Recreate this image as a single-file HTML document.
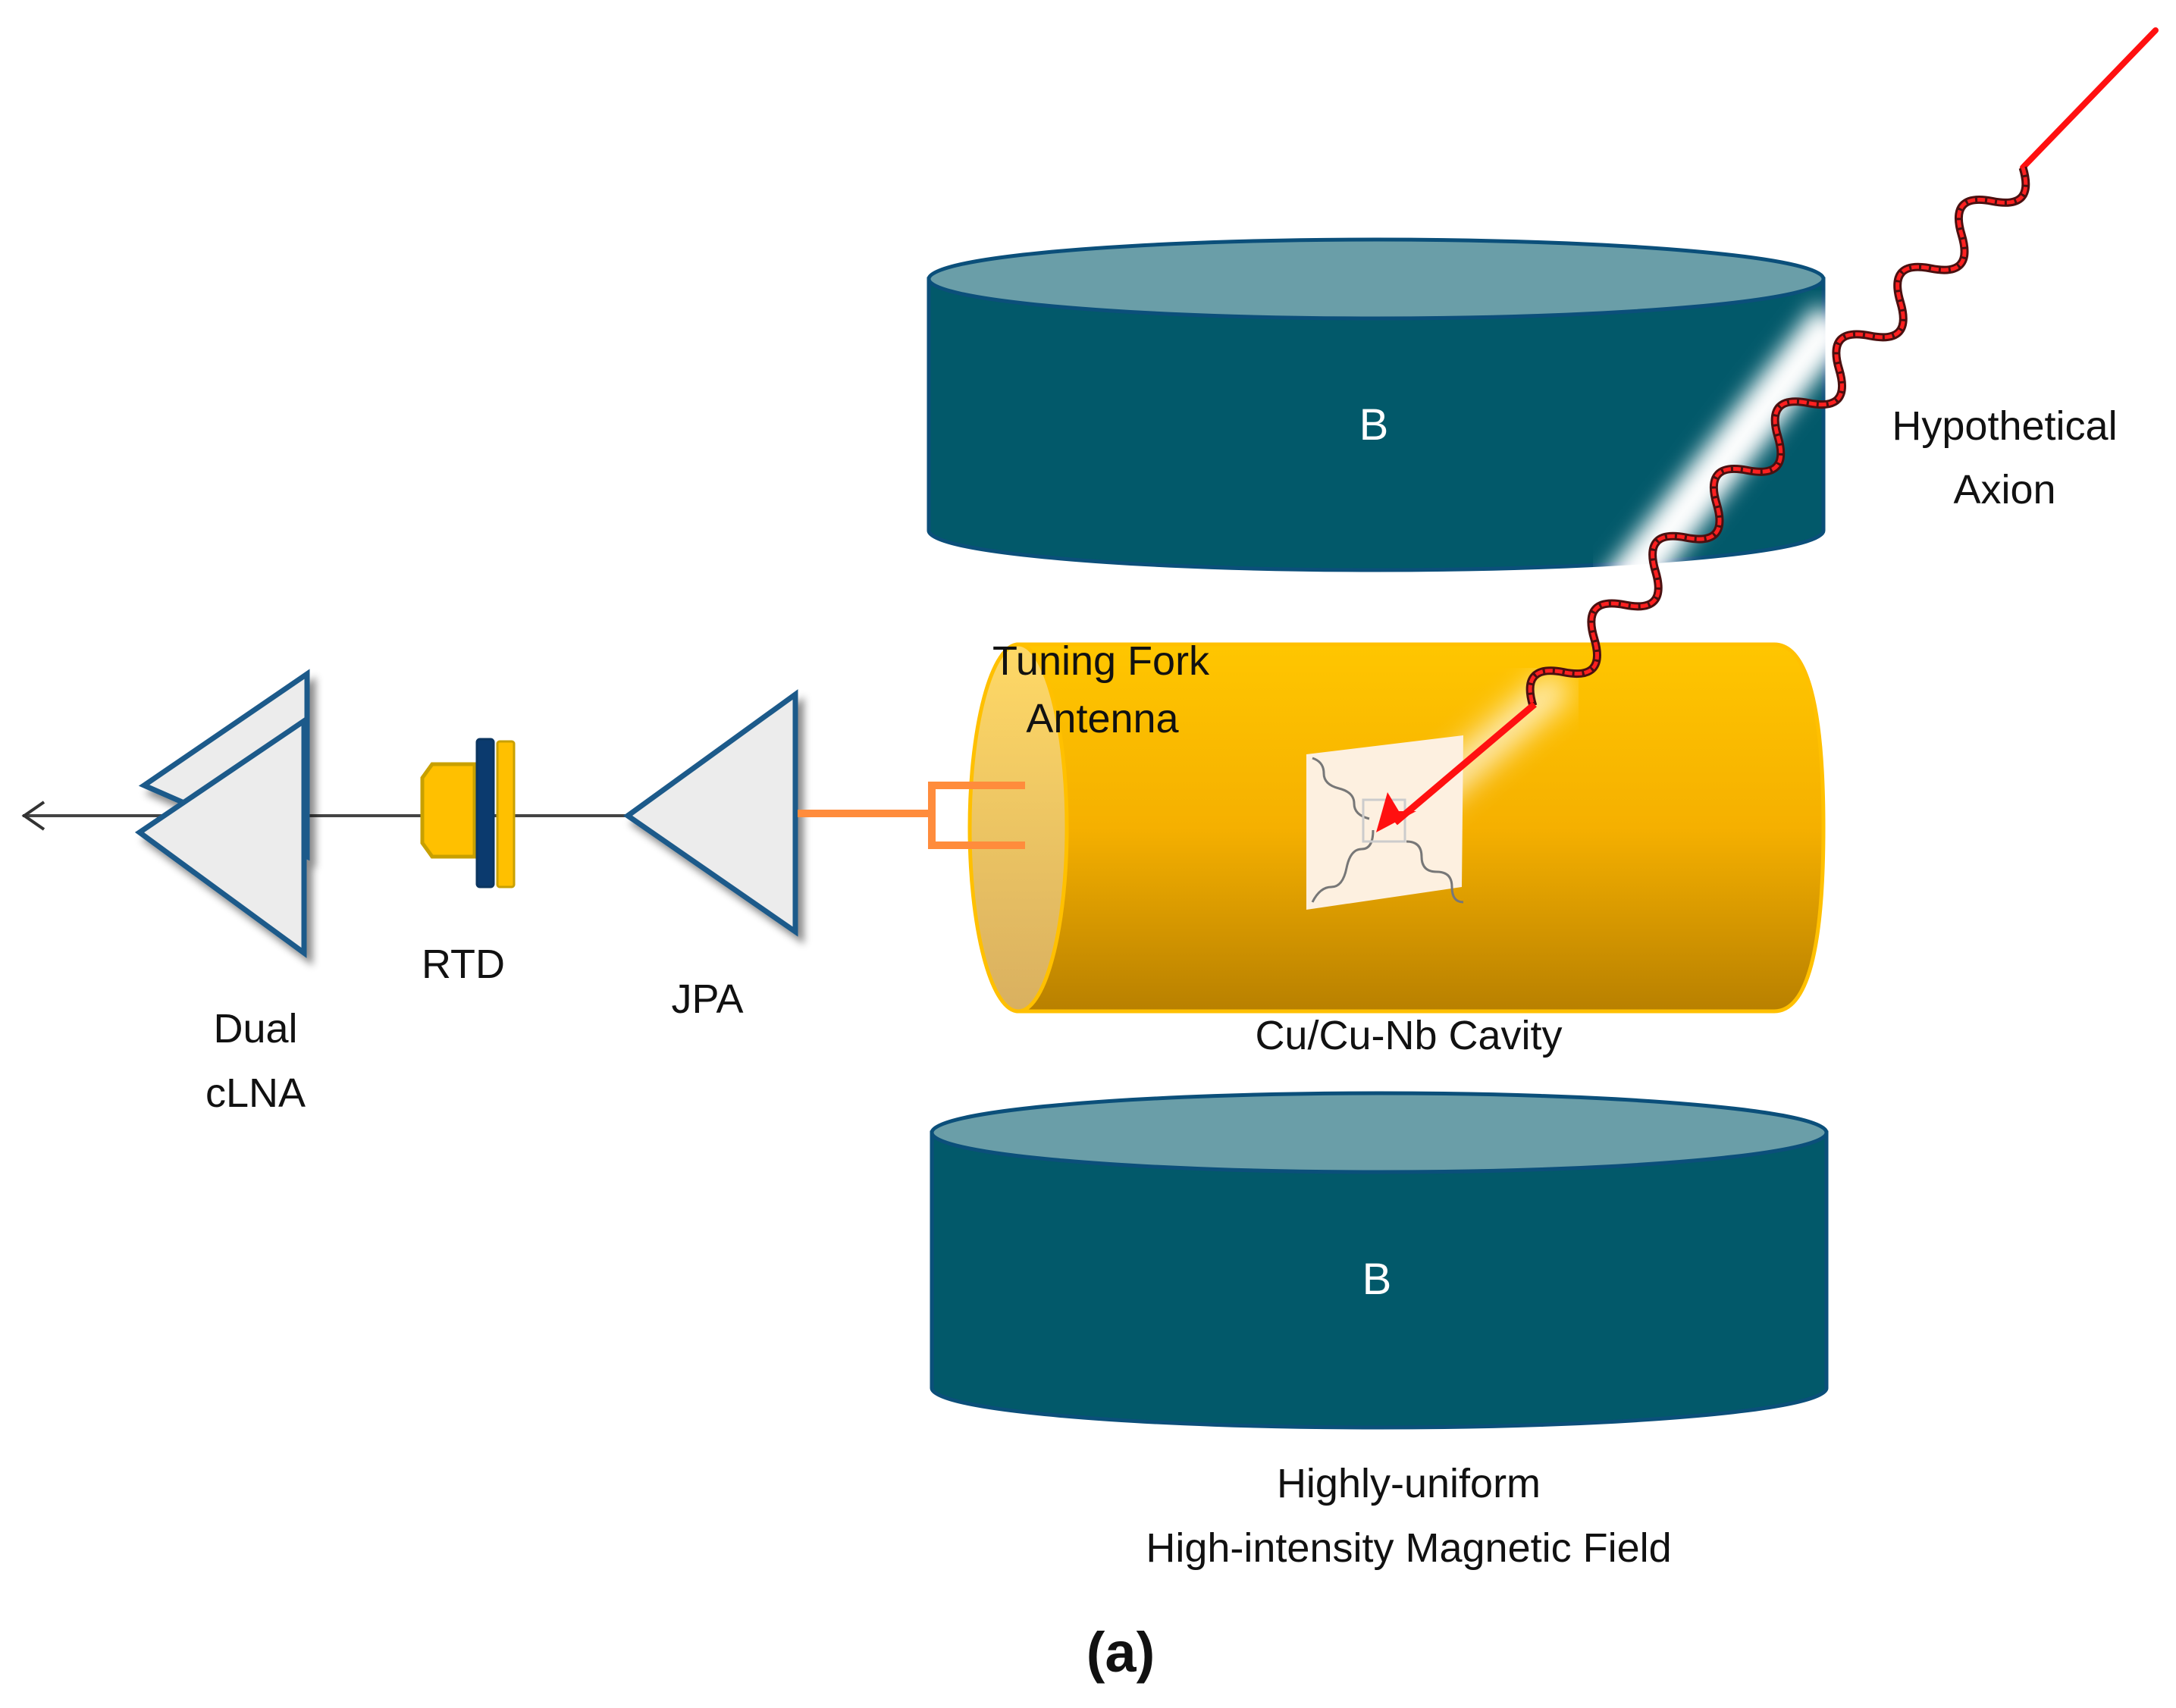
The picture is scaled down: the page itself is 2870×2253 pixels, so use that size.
<!DOCTYPE html>
<html><head><meta charset="utf-8"><style>
html,body{margin:0;padding:0;background:#fff;}
svg{display:block;}
text{font-family:"Liberation Sans",sans-serif;}
</style></head><body>
<svg width="2870" height="2253" viewBox="0 0 2870 2253" xmlns="http://www.w3.org/2000/svg">
<defs>
<linearGradient id="cav" x1="0" y1="0" x2="0" y2="1">
<stop offset="0" stop-color="#ffc600"/><stop offset="0.5" stop-color="#f5b000"/><stop offset="1" stop-color="#b88000"/>
</linearGradient>
<linearGradient id="capg" x1="0" y1="0" x2="0" y2="1">
<stop offset="0" stop-color="#ffd966"/><stop offset="1" stop-color="#d9b060"/>
</linearGradient>
<filter id="sh" x="-20%" y="-20%" width="150%" height="150%"><feDropShadow dx="8" dy="10" stdDeviation="5" flood-color="#000" flood-opacity="0.45"/></filter>
<filter id="bl"><feGaussianBlur stdDeviation="14"/></filter>
<filter id="bl2"><feGaussianBlur stdDeviation="20"/></filter>
</defs>

<path d="M1225,368 L1225,700 A590,52 0 0 0 2405,700 L2405,368 Z" fill="#02596a" stroke="#0b4f7a" stroke-width="5"/>
<ellipse cx="1815" cy="368" rx="590" ry="52" fill="#6a9ea8" stroke="#0b4f7a" stroke-width="5"/>
<text x="1812" y="580" font-size="58" fill="#fff" text-anchor="middle">B</text>

<path d="M1229,1494 L1229,1831 A590,52 0 0 0 2409,1831 L2409,1494 Z" fill="#02596a" stroke="#0b4f7a" stroke-width="5"/>
<ellipse cx="1819" cy="1494" rx="590" ry="52" fill="#6a9ea8" stroke="#0b4f7a" stroke-width="5"/>
<text x="1816" y="1707" font-size="58" fill="#fff" text-anchor="middle">B</text>

<path d="M1343,850 L2340,850 Q2405,850 2405,1092 Q2405,1334 2340,1334 L1343,1334 Z" fill="url(#cav)" stroke="#ffc000" stroke-width="5"/>
<ellipse cx="1343" cy="1092" rx="64" ry="242" fill="url(#capg)" stroke="#ffc000" stroke-width="5"/>

<line x1="2420" y1="420" x2="2130" y2="790" stroke="#fff" stroke-width="60" filter="url(#bl)"/>
<line x1="2060" y1="900" x2="1840" y2="1090" stroke="#fff" stroke-width="40" filter="url(#bl2)" opacity="0.8"/>

<polygon points="1723,995 1930,970 1928,1170 1723,1200" fill="#fdf0e0"/>
<g fill="none" stroke="#777" stroke-width="3">
<path d="M1731,1000 q15,5 15,20 t20,20 t20,20 t20,20"/>
<path d="M1731,1190 q10,-20 25,-20 t20,-25 t20,-25 t15,-25"/>
<path d="M1855,1110 q20,0 20,20 t20,20 t20,20 t15,20"/>
<rect x="1798" y="1055" width="55" height="55" stroke="#ccc"/>
</g>

<line x1="2843" y1="40" x2="2668" y2="221" stroke="#ff1010" stroke-width="8" stroke-linecap="round"/>
<g transform="translate(2668,221) rotate(132.3)">
<path d="M0,0 q30,-50 60,0 t60,0 t60,0 t60,0 t60,0 t60,0 t60,0 t60,0 t60,0 t60,0 t60,0 t60,0 t60,0 t60,0 t60,0 t60,0" fill="none" stroke="#4a1010" stroke-width="11"/>
<path d="M0,0 q30,-50 60,0 t60,0 t60,0 t60,0 t60,0 t60,0 t60,0 t60,0 t60,0 t60,0 t60,0 t60,0 t60,0 t60,0 t60,0 t60,0" fill="none" stroke="#ff2020" stroke-width="5" stroke-dasharray="10 3"/>
</g>
<line x1="2024" y1="929" x2="1840" y2="1085" stroke="#ff1010" stroke-width="9"/>
<polygon points="1815,1098 1830,1045 1845,1070 1868,1070" fill="#ff1010"/>

<g font-size="54" fill="#111" text-anchor="middle">
<text x="1452" y="890">Tuning Fork</text>
<text x="1454" y="966">Antenna</text>
<text x="1858" y="1384">Cu/Cu-Nb Cavity</text>
<text x="2644" y="580">Hypothetical</text>
<text x="2644" y="664">Axion</text>
<text x="1858" y="1975">Highly-uniform</text>
<text x="1858" y="2060">High-intensity Magnetic Field</text>
<text x="611" y="1290">RTD</text>
<text x="933" y="1336">JPA</text>
<text x="337" y="1375">Dual</text>
<text x="337" y="1460">cLNA</text>
<text x="1478" y="2205" font-size="74" font-weight="bold">(a)</text>
</g>

<line x1="30" y1="1076" x2="828" y2="1076" stroke="#444" stroke-width="4"/>
<polyline points="58,1058 32,1076 58,1094" fill="none" stroke="#333" stroke-width="4"/>

<g filter="url(#sh)">
<polygon points="190,1036 405,889 405,1130" fill="#ececec" stroke="#1e5a8a" stroke-width="7"/>
<polygon points="184,1098 401,951 401,1257" fill="#ececec" stroke="#1e5a8a" stroke-width="7"/>
</g>

<path d="M570,1008 L626,1008 L626,1130 L570,1130 L557,1112 L557,1026 Z" fill="#ffc000" stroke="#c8a000" stroke-width="5"/>
<rect x="629" y="975" width="22" height="195" rx="4" fill="#0b3a6e" stroke="#0b3560" stroke-width="3"/>
<rect x="656" y="978" width="22" height="192" rx="3" fill="#ffc000" stroke="#c8a000" stroke-width="3"/>

<polygon points="828,1076 1049,916 1049,1229" fill="#ececec" stroke="#1e5a8a" stroke-width="7" filter="url(#sh)"/>

<g stroke="#ff8c3c" stroke-width="10" fill="none">
<line x1="1052" y1="1073" x2="1229" y2="1073"/>
<polyline points="1352,1036 1229,1036 1229,1115 1352,1115"/>
</g>
</svg>
</body></html>
